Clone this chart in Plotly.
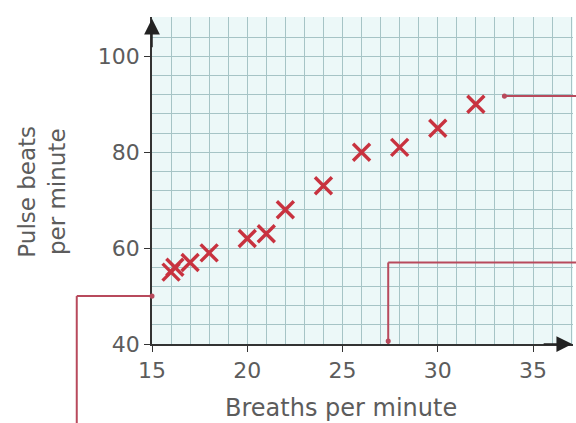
import plotly.graph_objects as go

# data
breaths = [16, 16.2, 17, 18, 20, 21, 22, 24, 26, 28, 30, 32]
pulse = [55, 56, 57, 59, 62, 63, 68, 73, 80, 81, 85, 90]

x_ticks = [15, 20, 25, 30, 35]
y_ticks = [40, 60, 80, 100]

X_RANGE = [15, 37.1]
Y_RANGE = [40, 108.2]

# callout leader lines (data units), they run out past the grid
callout_a = [(11.05, 23.0), (11.05, 50), (15, 50)]
callout_b = [(27.4, 40), (27.4, 57), (38.0, 57)]
callout_c = [(33.5, 91.7), (38.0, 91.7)]
callout_dots = [(15, 50), (27.4, 40.6), (33.5, 91.7)]

RED = "#c8323f"
LEADER = "#b84a5c"
TEXT = "#5c5c5c"
FONT = "DejaVu Sans"


def px(x):
    return (x - X_RANGE[0]) / (X_RANGE[1] - X_RANGE[0])


def py(y):
    return (y - Y_RANGE[0]) / (Y_RANGE[1] - Y_RANGE[0])


fig = go.Figure()
fig.add_trace(go.Scatter(
    x=breaths, y=pulse, mode="markers",
    marker={"symbol": "x-thin", "size": 17, "line": {"color": RED, "width": 3.4}},
    cliponaxis=False, showlegend=False,
))

shapes = []
for path in (callout_a, callout_b, callout_c):
    for (x0, y0), (x1, y1) in zip(path[:-1], path[1:]):
        shapes.append(dict(type="line", xref="paper", yref="paper",
                           x0=px(x0), y0=py(y0), x1=px(x1), y1=py(y1),
                           line={"color": LEADER, "width": 2}, layer="above"))
for x, y in callout_dots:
    shapes.append(dict(type="circle", xref="paper", yref="paper",
                       x0=px(x) - 0.006, x1=px(x) + 0.006,
                       y0=py(y) - 0.008, y1=py(y) + 0.008,
                       fillcolor=LEADER, line={"width": 0}, layer="above"))

annotations = [
    # axis arrows
    dict(xref="paper", yref="y", x=0.998, y=40, ax=-30, ay=0, text="",
         showarrow=True, arrowhead=2, arrowsize=2.1, arrowwidth=1.5, arrowcolor="#222"),
    dict(xref="x", yref="paper", x=15, y=0.995, ax=0, ay=30, text="",
         showarrow=True, arrowhead=2, arrowsize=2.1, arrowwidth=1.5, arrowcolor="#222"),
    dict(xref="paper", yref="paper", x=0.449, y=-0.195, text="Breaths per minute",
         showarrow=False, xanchor="center", yanchor="middle",
         font={"family": FONT, "size": 24, "color": TEXT}),
    dict(xref="paper", yref="paper", x=-0.262, y=0.465, text="Pulse beats<br>per minute",
         showarrow=False, textangle=-90, xanchor="center", yanchor="middle",
         font={"family": FONT, "size": 23, "color": TEXT}),
]

fig.update_layout(
    width=576, height=423,
    margin={"l": 152, "r": 3, "t": 17, "b": 79},
    paper_bgcolor="white",
    plot_bgcolor="#ecf8f8",
    shapes=shapes,
    annotations=annotations,
    font={"family": FONT, "color": TEXT, "size": 22},
    xaxis=dict(
        range=X_RANGE, tickvals=x_ticks,
        showgrid=False, zeroline=False,
        showline=True, linecolor="#333", linewidth=1.5,
        ticks="outside", ticklen=6, tickcolor="#333",
        minor=dict(tick0=15, dtick=1, showgrid=True, gridcolor="#a6c4c6", gridwidth=1, ticks=""),
        tickfont={"size": 22, "color": TEXT},
    ),
    yaxis=dict(
        range=Y_RANGE, tickvals=y_ticks,
        showgrid=False, zeroline=False,
        showline=True, linecolor="#333", linewidth=1.5,
        ticks="outside", ticklen=6, tickcolor="#333",
        minor=dict(tick0=40, dtick=4, showgrid=True, gridcolor="#a6c4c6", gridwidth=1, ticks=""),
        tickfont={"size": 22, "color": TEXT},
    ),
)

fig.write_html("out.html", config={"displayModeBar": False},
               post_script="document.body.style.margin='0';")
